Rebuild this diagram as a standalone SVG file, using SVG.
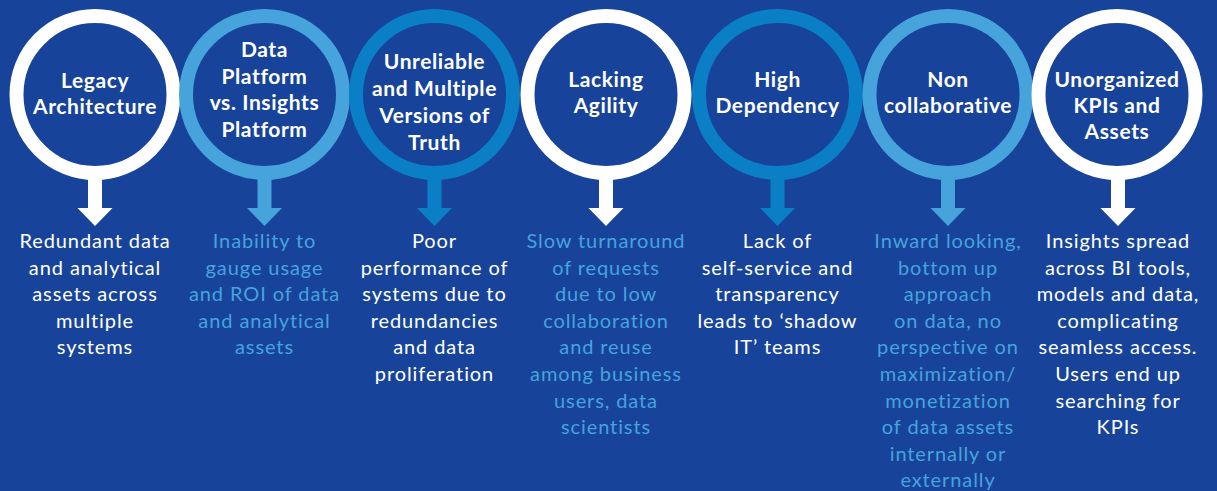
<svg xmlns="http://www.w3.org/2000/svg" xmlns:xlink="http://www.w3.org/1999/xlink" width="1217" height="491" viewBox="0 0 1217 491">
<style>
.bg{fill:#17449a}
.ring{fill:none;stroke-width:14}
.w{stroke:#ffffff}
.lb{stroke:#46a3dc}
.mb{stroke:#0a7fc5}
.title{font-family:Lato,"Open Sans",sans-serif;font-weight:700;font-size:21px;letter-spacing:0.6px;fill:#ffffff;text-anchor:middle}
.desc{font-family:Lato,"Open Sans",sans-serif;font-weight:400;font-size:20px;letter-spacing:0.9px;text-anchor:middle}
.dw{fill:#ffffff}
.dl{fill:#46a3dc}
</style>
<defs>
<path id="arr" d="M-7,176 H7 V208 H17.5 L0,226 L-17.5,208 H-7 Z"/>
</defs>
<rect class="bg" x="0" y="0" width="1217" height="491"/>
<g id="connectors">
<use xlink:href="#arr" x="95" fill="#ffffff"/>
<use xlink:href="#arr" x="264.5" fill="#46a3dc"/>
<use xlink:href="#arr" x="434.5" fill="#0a7fc5"/>
<use xlink:href="#arr" x="606" fill="#ffffff"/>
<use xlink:href="#arr" x="777.5" fill="#0a7fc5"/>
<use xlink:href="#arr" x="948" fill="#46a3dc"/>
<use xlink:href="#arr" x="1118" fill="#ffffff"/>
</g>
<g id="node1">
<circle class="ring w" cx="95" cy="94.5" r="78.5"/>
<text class="title"><tspan x="95" y="88">Legacy</tspan><tspan x="95" y="114">Architecture</tspan></text>
<text class="desc dw"><tspan x="95" y="248">Redundant data</tspan><tspan x="95" y="274.6">and analytical</tspan><tspan x="95" y="301.2">assets across</tspan><tspan x="95" y="327.8">multiple</tspan><tspan x="95" y="354.4">systems</tspan></text>
</g>
<g id="node2">
<circle class="ring lb" cx="264.5" cy="94.5" r="78.5"/>
<text class="title"><tspan x="264.5" y="57">Data</tspan><tspan x="264.5" y="83.5">Platform</tspan><tspan x="264.5" y="110">vs. Insights</tspan><tspan x="264.5" y="136.5">Platform</tspan></text>
<text class="desc dl"><tspan x="264.5" y="248">Inability to</tspan><tspan x="264.5" y="274.6">gauge usage</tspan><tspan x="264.5" y="301.2">and ROI of data</tspan><tspan x="264.5" y="327.8">and analytical</tspan><tspan x="264.5" y="354.4">assets</tspan></text>
</g>
<g id="node3">
<circle class="ring mb" cx="434.5" cy="94.5" r="78.5"/>
<text class="title"><tspan x="434.5" y="69">Unreliable</tspan><tspan x="434.5" y="96">and Multiple</tspan><tspan x="434.5" y="123">Versions of</tspan><tspan x="434.5" y="150">Truth</tspan></text>
<text class="desc dw"><tspan x="434.5" y="248">Poor</tspan><tspan x="434.5" y="274.6">performance of</tspan><tspan x="434.5" y="301.2">systems due to</tspan><tspan x="434.5" y="327.8">redundancies</tspan><tspan x="434.5" y="354.4">and data</tspan><tspan x="434.5" y="381">proliferation</tspan></text>
</g>
<g id="node4">
<circle class="ring w" cx="606" cy="94.5" r="78.5"/>
<text class="title"><tspan x="606" y="87">Lacking</tspan><tspan x="606" y="113">Agility</tspan></text>
<text class="desc dl"><tspan x="606" y="248">Slow turnaround</tspan><tspan x="606" y="274.6">of requests</tspan><tspan x="606" y="301.2">due to low</tspan><tspan x="606" y="327.8">collaboration</tspan><tspan x="606" y="354.4">and reuse</tspan><tspan x="606" y="381">among business</tspan><tspan x="606" y="407.6">users, data</tspan><tspan x="606" y="434.2">scientists</tspan></text>
</g>
<g id="node5">
<circle class="ring mb" cx="777.5" cy="94.5" r="78.5"/>
<text class="title"><tspan x="777.5" y="87">High</tspan><tspan x="777.5" y="113">Dependency</tspan></text>
<text class="desc dw"><tspan x="777.5" y="248">Lack of</tspan><tspan x="777.5" y="274.6">self-service and</tspan><tspan x="777.5" y="301.2">transparency</tspan><tspan x="777.5" y="327.8">leads to ‘shadow</tspan><tspan x="777.5" y="354.4">IT’ teams</tspan></text>
</g>
<g id="node6">
<circle class="ring lb" cx="948" cy="94.5" r="78.5"/>
<text class="title"><tspan x="948" y="87">Non</tspan><tspan x="948" y="113">collaborative</tspan></text>
<text class="desc dl"><tspan x="948" y="248">Inward looking,</tspan><tspan x="948" y="274.6">bottom up</tspan><tspan x="948" y="301.2">approach</tspan><tspan x="948" y="327.8">on data, no</tspan><tspan x="948" y="354.4">perspective on</tspan><tspan x="948" y="381">maximization/</tspan><tspan x="948" y="407.6">monetization</tspan><tspan x="948" y="434.2">of data assets</tspan><tspan x="948" y="460.8">internally or</tspan><tspan x="948" y="487.4">externally</tspan></text>
</g>
<g id="node7">
<circle class="ring w" cx="1117" cy="94.5" r="78.5"/>
<text class="title"><tspan x="1117" y="87">Unorganized</tspan><tspan x="1117" y="113">KPIs and</tspan><tspan x="1117" y="139">Assets</tspan></text>
<text class="desc dw"><tspan x="1118" y="248">Insights spread</tspan><tspan x="1118" y="274.6">across BI tools,</tspan><tspan x="1118" y="301.2">models and data,</tspan><tspan x="1118" y="327.8">complicating</tspan><tspan x="1118" y="354.4">seamless access.</tspan><tspan x="1118" y="381">Users end up</tspan><tspan x="1118" y="407.6">searching for</tspan><tspan x="1118" y="434.2">KPIs</tspan></text>
</g>
</svg>
